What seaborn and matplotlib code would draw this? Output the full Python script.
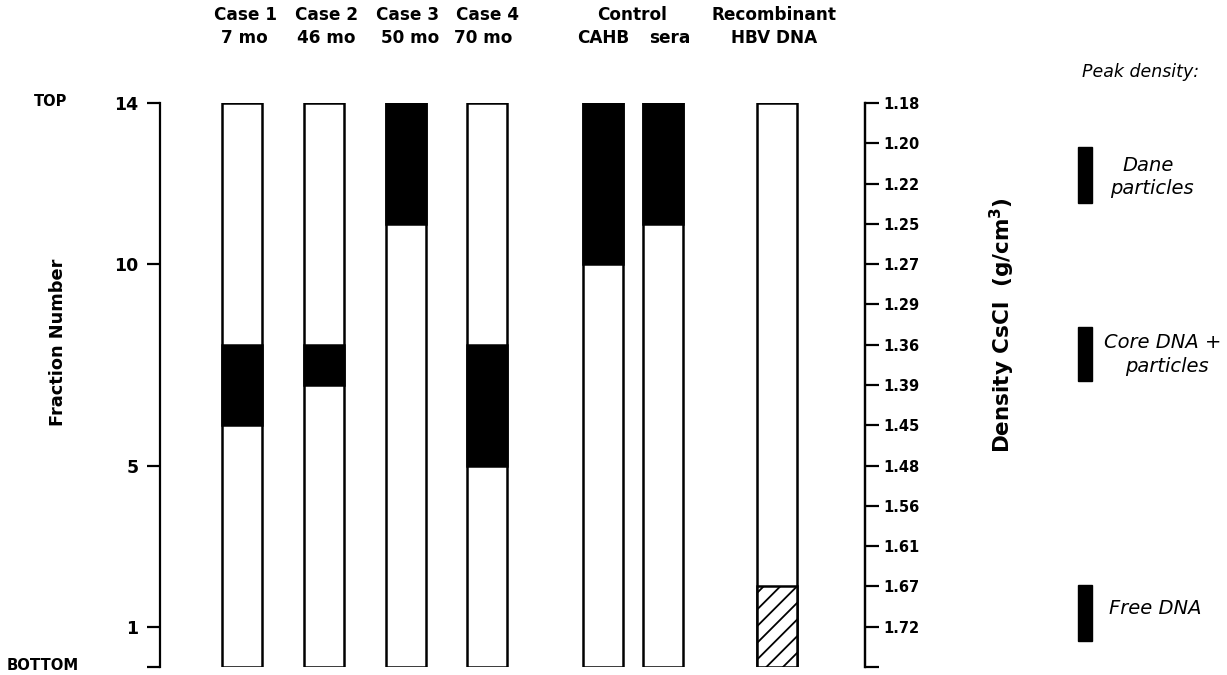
import matplotlib
matplotlib.use("Agg")
import matplotlib.pyplot as plt
from matplotlib.patches import Rectangle
import seaborn as sns

# ---- data ----
samples = ["Case 1", "Case 2", "Case 3", "Case 4", "CAHB", "sera", "Recombinant"]
peak_low = [6, 7, 11, 5, 10, 11, 0]      # fraction number, lower edge of peak
peak_high = [8, 8, 14, 8, 14, 14, 2]     # fraction number, upper edge of peak
peak_kind = ["core", "core", "dane", "core", "dane", "dane", "free"]
n_fractions = 14
left_ticks = [0, 1, 5, 10, 14]
left_labels = ["", "1", "5", "10", "14"]
density_labels = ["1.72", "1.67", "1.61", "1.56", "1.48", "1.45", "1.39",
                  "1.36", "1.29", "1.27", "1.25", "1.22", "1.20", "1.18"]

# ---- layout (pixel positions) ----
W, H = 1227, 675
col_x = [242, 324, 406, 487, 603, 663, 777]
FONT = "DejaVu Sans"

sns.set_theme(style="white")
plt.rcParams["font.family"] = [FONT]
plt.rcParams["hatch.linewidth"] = 1.3
for k in ["text.color", "axes.labelcolor", "xtick.color", "ytick.color",
          "axes.edgecolor"]:
    plt.rcParams[k] = "black"

fig = plt.figure(figsize=(W / 100, H / 100), dpi=100)
y_top, y_bot, x_l, x_r = 103, 667, 160, 865
ax = fig.add_axes([x_l / W, 1 - y_bot / H, (x_r - x_l) / W, (y_bot - y_top) / H])

# full-height columns via seaborn
sns.barplot(x=col_x, y=[n_fractions] * len(col_x), native_scale=True,
            width=40 / 60, color="white", saturation=1, edgecolor="black",
            linewidth=1.8, errorbar=None, ax=ax, zorder=2)

# peaks
for xc, lo, hi, kind in zip(col_x, peak_low, peak_high, peak_kind):
    if kind == "free":
        ax.bar(xc, hi - lo, bottom=lo, width=40, facecolor="white",
               edgecolor="black", hatch="//", linewidth=1.8, zorder=3)
    else:
        ax.bar(xc, hi - lo, bottom=lo, width=40, facecolor="black",
               edgecolor="black", linewidth=1.8, zorder=3)

ax.set_xlim(x_l, x_r)
ax.set_ylim(0, n_fractions)
ax.set_xticks([])
ax.set_xlabel("")
ax.set_ylabel("")
for s in ["top", "bottom"]:
    ax.spines[s].set_visible(False)
for s in ["left", "right"]:
    ax.spines[s].set_linewidth(1.6)
    ax.spines[s].set_color("black")
ax.set_yticks(left_ticks)
ax.set_yticklabels(left_labels)
ax.tick_params(axis="y", which="both", left=True, direction="out", length=9.5,
               width=1.6, color="black", pad=6, labelsize=12.5)
for t in ax.get_yticklabels():
    t.set_fontweight("bold")

ax2 = ax.twinx()
ax2.set_ylim(0, n_fractions)
ax2.set_yticks(range(0, n_fractions + 1))
ax2.set_yticklabels([""] + density_labels)
ax2.tick_params(axis="y", right=True, direction="out", length=10, width=1.6,
                color="black", pad=3, labelsize=10.5)
for t in ax2.get_yticklabels():
    t.set_fontweight("bold")
for s in ["top", "bottom", "left"]:
    ax2.spines[s].set_visible(False)
ax2.spines["right"].set_linewidth(1.6)
ax2.spines["right"].set_color("black")
ax2.grid(False)
ax.grid(False)


def ftext(x, y, s, **kw):
    kw.setdefault("ha", "center")
    kw.setdefault("va", "center")
    fig.text(x / W, 1 - y / H, s, **kw)


bold = dict(fontweight="bold", fontsize=12.2)
# column headers
ftext(245, 15, "Case 1", **bold)
ftext(244, 38, "7 mo", **bold)
ftext(327, 15, "Case 2", **bold)
ftext(326, 38, "46 mo", **bold)
ftext(408, 15, "Case 3", **bold)
ftext(410, 38, "50 mo", **bold)
ftext(487, 15, "Case 4", **bold)
ftext(483, 38, "70 mo", **bold)
ftext(632, 15, "Control", **bold)
ftext(603, 38, "CAHB", **bold)
ftext(670, 38, "sera", **bold)
ftext(774, 15, "Recombinant", **bold)
ftext(774, 38, "HBV DNA", **bold)

# side labels
ftext(51, 102, "TOP", fontweight="bold", fontsize=10.5)
ftext(43, 665, "BOTTOM", fontweight="bold", fontsize=10.7)
ftext(58, 342, "Fraction Number", fontweight="bold", fontsize=12.8, rotation=90)
ftext(1002, 325, "Density CsCl  (g/cm$^{\\mathbf{3}}$)", fontweight="bold",
      fontsize=15.5, rotation=90)

# legend
it = dict(fontstyle="italic", fontsize=14)
ftext(1141, 72, "Peak density:", fontstyle="italic", fontsize=12.5)
for (y0, y1) in [(147, 203), (327, 381), (585, 641)]:
    fig.add_artist(Rectangle((1078 / W, 1 - y1 / H), 14 / W, (y1 - y0) / H,
                             transform=fig.transFigure, facecolor="black",
                             edgecolor="black"))
ftext(1148, 166, "Dane", **it)
ftext(1152, 188, "particles", **it)
ftext(1163, 342, "Core DNA +", **it)
ftext(1167, 366, "particles", **it)
ftext(1155, 609, "Free DNA", **it)

fig.savefig("out.png", dpi=100, facecolor="white")
